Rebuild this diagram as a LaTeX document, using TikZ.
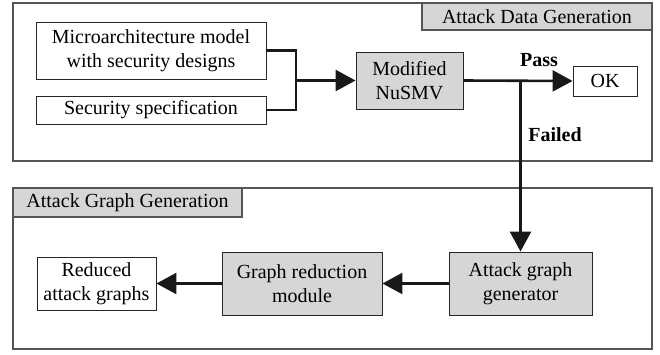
\documentclass[tikz,border=0pt]{standalone}
\usepackage{fontspec}
\setmainfont{Liberation Serif}
\usetikzlibrary{arrows.meta}
\definecolor{boxgray}{HTML}{D6D6D6}
\definecolor{framegray}{HTML}{555555}
\tikzset{
  box/.style={draw=black!85, line width=0.9pt, align=center, inner sep=0pt,
    font=\fontsize{20}{24}\selectfont},
  graybox/.style={box, fill=boxgray},
  frame/.style={draw=framegray, line width=1.2pt},
  conn/.style={line width=2.6pt, black!90},
  arr/.style={conn, -{Triangle[length=20pt, width=21pt]}},
  lbl/.style={font=\fontsize{20}{24}\selectfont\bfseries, inner sep=0pt}
}
\begin{document}
\begin{tikzpicture}[x=1pt, y=-1pt]
\useasboundingbox (0,0) rectangle (660,354);
% frames
\draw[frame] (13,3) rectangle (652,161);
\node[graybox, draw=framegray, line width=1.2pt, minimum width=230pt, minimum height=27pt] (t1) at (537,16.5) {Attack Data Generation};
\draw[frame] (13,188) rectangle (652,349);
\node[graybox, draw=framegray, line width=1.2pt, minimum width=229pt, minimum height=29pt] (t2) at (127.5,202.5) {Attack Graph Generation};
% nodes
\node[box, minimum width=230pt, minimum height=57pt] (micro) at (151,50.5) {Microarchitecture model\\with security designs};
\node[box, minimum width=230pt, minimum height=28pt] (spec) at (151,110) {Security specification};
\node[graybox, minimum width=107pt, minimum height=57pt] (nusmv) at (409.5,80.5) {Modified\\NuSMV};
\node[box, minimum width=64pt, minimum height=30pt] (ok) at (605,81) {OK};
\node[graybox, minimum width=143pt, minimum height=63pt] (agg) at (520.5,283.5) {Attack graph\\generator};
\node[graybox, minimum width=160pt, minimum height=63pt] (grm) at (302,283.5) {Graph reduction\\module};
\node[box, minimum width=119pt, minimum height=53pt] (rag) at (96.5,283.5) {Reduced\\attack graphs};
\node[lbl] (pass) at (539,60) {Pass};
\node[lbl] (failed) at (555,135) {Failed};
% connectors
\coordinate (j1) at (296,80.5);
\draw[conn] (micro.east) -| (j1);
\draw[conn] (spec.east) -| (j1);
\draw[arr] (j1) -- (nusmv.west);
\draw[arr] (nusmv.east) -- (ok.west);
\coordinate (fork) at (nusmv.east -| agg.north);
\draw[arr] (fork) -- (agg.north);
\draw[arr] (agg.west) -- (grm.east);
\draw[arr] (grm.west) -- (rag.east);
\end{tikzpicture}
\end{document}
